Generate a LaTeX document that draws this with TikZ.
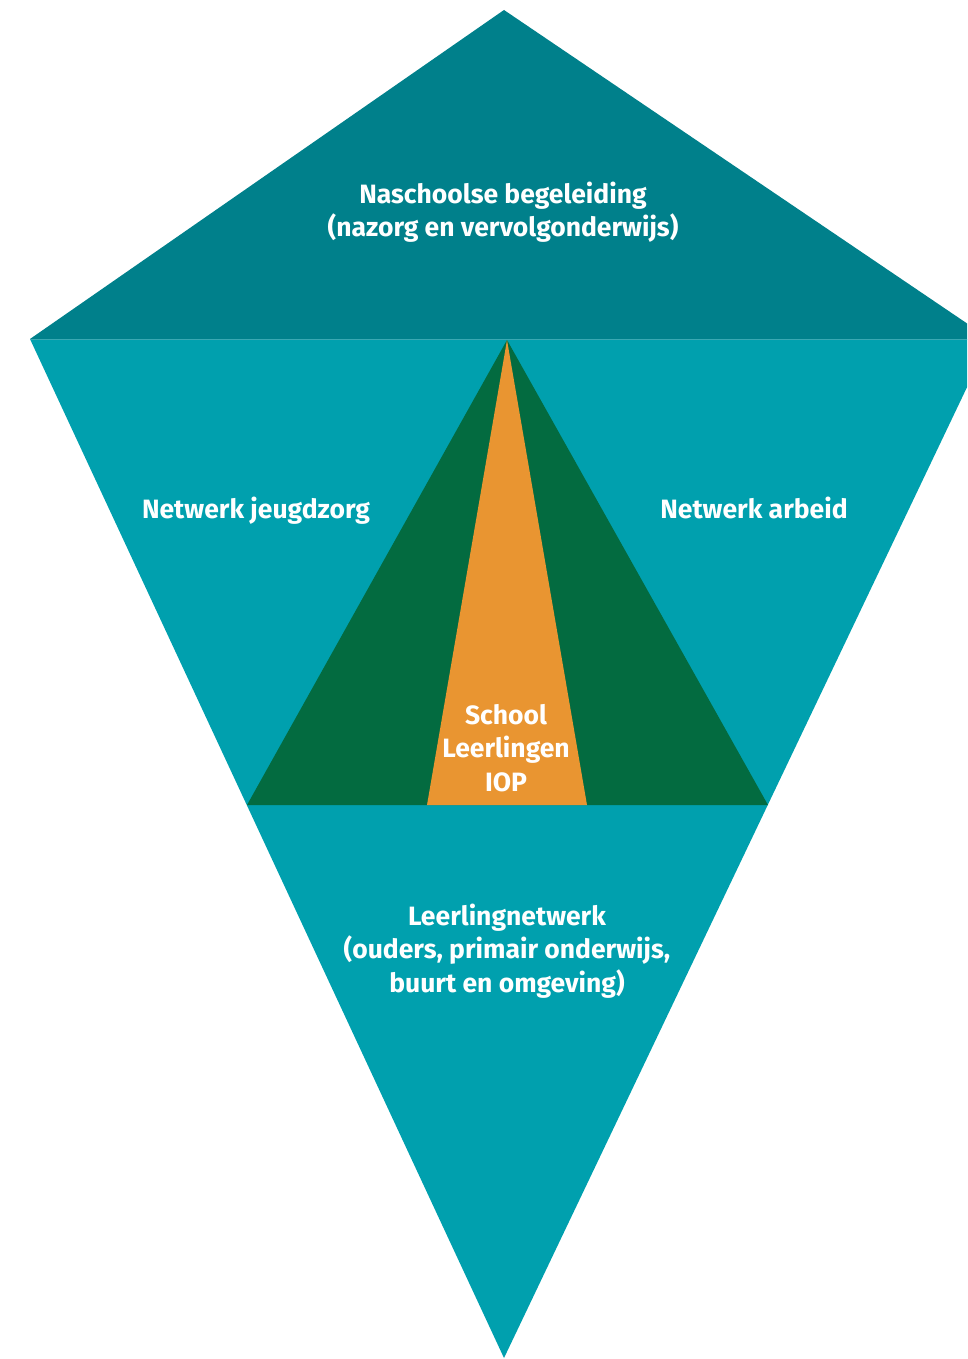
\documentclass[tikz,border=0pt]{standalone}
\usepackage{fontspec}
\setmainfont{Fira Sans}
\definecolor{topteal}{HTML}{00808B}
\definecolor{teal}{HTML}{00A0AE}
\definecolor{seam}{HTML}{3AA9B3}
\definecolor{forest}{HTML}{036B40}
\definecolor{amber}{HTML}{E99531}
\tikzset{
  lbl/.style={text=white, font=\fontsize{26.5}{33.5}\selectfont\bfseries, align=center, inner sep=0pt},
}
\begin{document}
\begin{tikzpicture}[x=1pt,y=-1pt]
  \useasboundingbox (0,0) rectangle (967,1359);
  \clip (0,0) rectangle (967,1359);
  % kite corners
  \coordinate (top) at (504,10);
  \coordinate (left) at (30,339);
  \coordinate (right) at (990,339);
  \coordinate (bottom) at (504,1358);
  % inner pyramid
  \coordinate (apex) at (507,340);
  \coordinate (gl) at (247,805);
  \coordinate (gr) at (768,805);
  \coordinate (ol) at (427,805);
  \coordinate (or) at (587,805);
  % fills
  \fill[topteal] (top) -- (right) -- (left) -- cycle;
  \fill[teal] (left) -- (right) -- (bottom) -- cycle;
  \fill[forest] (apex) -- (gr) -- (gl) -- cycle;
  \fill[amber] (apex) -- (or) -- (ol) -- cycle;
  \draw[seam, line width=0.8pt] (left) -- (right);
  % labels
  \node[lbl] (nasch) at (503,212) {Naschoolse begeleiding\\(nazorg en vervolgonderwijs)};
  \node[lbl, anchor=base] (jeugd) at (256,518) {Netwerk jeugdzorg};
  \node[lbl, anchor=base] (arbeid) at (754,518) {Netwerk arbeid};
  \node[lbl] (school) at (506,748) {School\\Leerlingen\\IOP};
  \node[lbl] (leerl) at (507,951) {Leerlingnetwerk\\(ouders, primair onderwijs,\\buurt en omgeving)};
\end{tikzpicture}
\end{document}
